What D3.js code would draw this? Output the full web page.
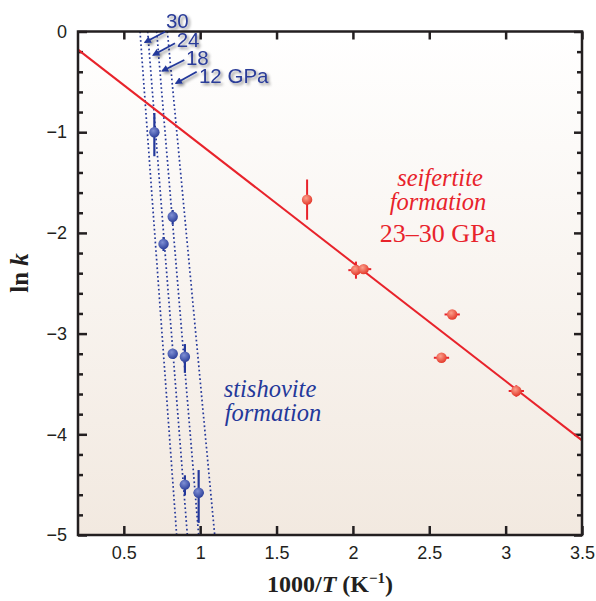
<!DOCTYPE html>
<html>
<head>
<meta charset="utf-8">
<script src="https://cdn.jsdelivr.net/npm/d3@7"></script>
<style>
  body { margin: 0; background: #fff; }
  svg { display: block; }
  .tick text { font-family: "Liberation Sans", Arial, sans-serif; font-size: 18px; fill: #231f20; }
  .tick line { stroke: #231f20; stroke-width: 2.5; }
</style>
</head>
<body>
<script>
// seifertite formation points (red)
const seifX = [1.70, 2.02, 2.07, 2.65, 2.58, 3.07];
const seifY = [-1.67, -2.37, -2.36, -2.81, -3.24, -3.57];
const seifXErr = [0.03, 0.05, 0.05, 0.05, 0.05, 0.05];
const seifYErr = [0.20, 0.085, 0, 0, 0, 0.057];

// stishovite formation points (blue)
const stiX = [0.70, 0.82, 0.76, 0.82, 0.90, 0.90, 0.99];
const stiY = [-1.00, -1.84, -2.11, -3.20, -3.23, -4.50, -4.58];
const stiYUp = [0.19, 0.067, 0.07, 0, 0.126, 0.093, 0.225];
const stiYDown = [0.24, 0.076, 0.07, 0, 0.16, 0.107, 0.30];
const stiXErr = [0, 0, 0, 0.03, 0.03, 0.033, 0.033];

// fitted line for seifertite
const fitX = [0.2, 3.5];
const fitY = [-0.18, -4.06];

// isobars (GPa) : x at ln k = 0 and at ln k = -5
const isoP = ["30", "24", "18", "12 GPa"];
const isoTopX = [0.606, 0.656, 0.715, 0.785];
const isoBotX = [0.846, 0.916, 0.990, 1.095];
// isobar labels and arrows (data coords)
const isoLabelX = [0.776, 0.846, 0.907, 0.992];
const isoLabelY = [0.032, -0.151, -0.333, -0.514];
const arrowFromX = [0.770, 0.835, 0.896, 0.977];
const arrowFromY = [-0.002, -0.117, -0.283, -0.399];
const arrowToX = [0.639, 0.693, 0.752, 0.842];
const arrowToY = [-0.107, -0.233, -0.392, -0.514];

const xTicks = [0.5, 1, 1.5, 2, 2.5, 3, 3.5];
const yTicks = [0, -1, -2, -3, -4, -5];

const W = 596, H = 601;
const mLeft = 78, mRight = 582, mTop = 31.5, mBottom = 535;

const red = "#e8232b", blue = "#24389a";

let svg = d3.select("body").append("svg").attr("width", W).attr("height", H);
let defs = svg.append("defs");

let bg = defs.append("linearGradient").attr("id", "bg")
    .attr("x1", 0).attr("y1", 0).attr("x2", 0).attr("y2", 1);
bg.append("stop").attr("offset", "0%").attr("stop-color", "#ffffff");
bg.append("stop").attr("offset", "100%").attr("stop-color", "#f2e9e0");

let rg = defs.append("radialGradient").attr("id", "redDot").attr("cx", "40%").attr("cy", "35%").attr("r", "65%");
rg.append("stop").attr("offset", "0%").attr("stop-color", "#fba08c");
rg.append("stop").attr("offset", "100%").attr("stop-color", "#e43a2c");

let bgr = defs.append("radialGradient").attr("id", "blueDot").attr("cx", "40%").attr("cy", "35%").attr("r", "65%");
bgr.append("stop").attr("offset", "0%").attr("stop-color", "#7f8fd4");
bgr.append("stop").attr("offset", "100%").attr("stop-color", "#30439d");

let sh = defs.append("filter").attr("id", "shadow").attr("x", "-20%").attr("y", "-20%").attr("width", "150%").attr("height", "160%");
sh.append("feDropShadow").attr("dx", 2).attr("dy", 2).attr("stdDeviation", 1.8)
    .attr("flood-color", "#000").attr("flood-opacity", 0.45);

defs.append("marker").attr("id", "arrow").attr("viewBox", "0 0 10 10")
    .attr("refX", 8).attr("refY", 5).attr("markerWidth", 4).attr("markerHeight", 4)
    .attr("orient", "auto")
    .append("path").attr("d", "M0,0 L10,5 L0,10 z").attr("fill", blue);

defs.append("clipPath").attr("id", "plotClip")
    .append("rect").attr("x", mLeft).attr("y", mTop).attr("width", mRight - mLeft).attr("height", mBottom - mTop);

let x = d3.scaleLinear().domain([0.2, 3.5]).range([mLeft, mRight]);
let y = d3.scaleLinear().domain([-5, 0]).range([mBottom, mTop]);

// plot background
svg.append("rect").attr("x", mLeft).attr("y", mTop).attr("width", mRight - mLeft).attr("height", mBottom - mTop)
    .attr("fill", "url(#bg)");

// axes
let minorY = d3.range(-5, 0.01, 0.2).map(d => Math.round(d * 10) / 10).filter(d => !Number.isInteger(d));

svg.append("g").attr("transform", `translate(0,${mBottom})`)
    .call(d3.axisBottom(x).tickValues(xTicks).tickFormat(d3.format("~g")).tickSizeInner(-9).tickSizeOuter(0).tickPadding(11))
    .call(g => g.select(".domain").remove());
svg.append("g").attr("transform", `translate(0,${mTop})`)
    .call(d3.axisTop(x).tickValues(xTicks).tickFormat("").tickSizeInner(-8).tickSizeOuter(0))
    .call(g => g.select(".domain").remove());
svg.append("g").attr("transform", `translate(${mLeft},0)`)
    .call(d3.axisLeft(y).tickValues(yTicks).tickFormat(d3.format("d")).tickSizeInner(-9).tickSizeOuter(0).tickPadding(11))
    .call(g => g.select(".domain").remove());
svg.append("g").attr("transform", `translate(${mLeft},0)`)
    .call(d3.axisLeft(y).tickValues(minorY).tickFormat("").tickSizeInner(-5).tickSizeOuter(0))
    .call(g => g.select(".domain").remove());
svg.append("g").attr("transform", `translate(${mRight},0)`)
    .call(d3.axisRight(y).tickValues(yTicks).tickFormat("").tickSizeInner(-8).tickSizeOuter(0))
    .call(g => g.select(".domain").remove());
svg.append("g").attr("transform", `translate(${mRight},0)`)
    .call(d3.axisRight(y).tickValues(minorY).tickFormat("").tickSizeInner(-5).tickSizeOuter(0))
    .call(g => g.select(".domain").remove());

let plot = svg.append("g").attr("clip-path", "url(#plotClip)");

// isobars
plot.selectAll(".iso").data(isoP).enter().append("line")
    .attr("x1", (d, i) => x(isoTopX[i])).attr("y1", y(0))
    .attr("x2", (d, i) => x(isoBotX[i])).attr("y2", y(-5))
    .attr("stroke", blue).attr("stroke-width", 1.7)
    .attr("stroke-dasharray", "1.7 2.6");

// fit line
plot.append("line")
    .attr("x1", x(fitX[0])).attr("y1", y(fitY[0]))
    .attr("x2", x(fitX[1])).attr("y2", y(fitY[1]))
    .attr("stroke", red).attr("stroke-width", 2);

// red error bars and points
let seif = seifX.map((d, i) => ({x: d, y: seifY[i], xe: seifXErr[i], ye: seifYErr[i]}));
let sg = plot.append("g");
sg.selectAll(".xe").data(seif.filter(d => d.xe > 0)).enter().append("line")
    .attr("x1", d => x(d.x - d.xe)).attr("x2", d => x(d.x + d.xe))
    .attr("y1", d => y(d.y)).attr("y2", d => y(d.y))
    .attr("stroke", red).attr("stroke-width", 2);
sg.selectAll(".ye").data(seif.filter(d => d.ye > 0)).enter().append("line")
    .attr("x1", d => x(d.x)).attr("x2", d => x(d.x))
    .attr("y1", d => y(d.y - d.ye)).attr("y2", d => y(d.y + d.ye))
    .attr("stroke", red).attr("stroke-width", 2);
sg.selectAll("circle").data(seif).enter().append("circle")
    .attr("cx", d => x(d.x)).attr("cy", d => y(d.y)).attr("r", 5.2)
    .attr("fill", "url(#redDot)");

// blue error bars and points
let sti = stiX.map((d, i) => ({x: d, y: stiY[i], up: stiYUp[i], dn: stiYDown[i], xe: stiXErr[i]}));
let bg2 = plot.append("g");
bg2.selectAll(".xe").data(sti.filter(d => d.xe > 0)).enter().append("line")
    .attr("x1", d => x(d.x - d.xe)).attr("x2", d => x(d.x + d.xe))
    .attr("y1", d => y(d.y)).attr("y2", d => y(d.y))
    .attr("stroke", blue).attr("stroke-width", 2.2);
bg2.selectAll(".ye").data(sti.filter(d => d.up > 0)).enter().append("line")
    .attr("x1", d => x(d.x)).attr("x2", d => x(d.x))
    .attr("y1", d => y(d.y - d.dn)).attr("y2", d => y(d.y + d.up))
    .attr("stroke", blue).attr("stroke-width", 2.2);
bg2.selectAll("circle").data(sti).enter().append("circle")
    .attr("cx", d => x(d.x)).attr("cy", d => y(d.y)).attr("r", 5.2)
    .attr("fill", "url(#blueDot)");

// frame
svg.append("rect").attr("x", mLeft).attr("y", mTop).attr("width", mRight - mLeft).attr("height", mBottom - mTop)
    .attr("fill", "none").attr("stroke", "#231f20").attr("stroke-width", 2.5);

// isobar labels with arrows
let ann = svg.append("g").attr("filter", "url(#shadow)");
ann.selectAll("line").data(isoP).enter().append("line")
    .attr("x1", (d, i) => x(arrowFromX[i])).attr("y1", (d, i) => y(arrowFromY[i]))
    .attr("x2", (d, i) => x(arrowToX[i])).attr("y2", (d, i) => y(arrowToY[i]))
    .attr("stroke", blue).attr("stroke-width", 1.8).attr("marker-end", "url(#arrow)");
ann.selectAll("text").data(isoP).enter().append("text")
    .attr("x", (d, i) => x(isoLabelX[i])).attr("y", (d, i) => y(isoLabelY[i]))
    .attr("font-family", "Liberation Sans, Arial, sans-serif").attr("font-size", 20.5)
    .attr("fill", "#2a3c98")
    .text(d => d);

// region labels
let serif = "Liberation Serif, Times New Roman, serif";
svg.append("text").attr("x", 440).attr("y", 186).attr("text-anchor", "middle")
    .attr("font-family", serif).attr("font-style", "italic").attr("font-size", 24.5).attr("fill", red)
    .text("seifertite");
svg.append("text").attr("x", 438).attr("y", 210).attr("text-anchor", "middle")
    .attr("font-family", serif).attr("font-style", "italic").attr("font-size", 24.5).attr("fill", red)
    .text("formation");
svg.append("text").attr("x", 438).attr("y", 242).attr("text-anchor", "middle")
    .attr("font-family", serif).attr("font-size", 26).attr("fill", red)
    .text("23\u201330 GPa");
svg.append("text").attr("x", 270).attr("y", 397).attr("text-anchor", "middle")
    .attr("font-family", serif).attr("font-style", "italic").attr("font-size", 24.5).attr("fill", blue)
    .text("stishovite");
svg.append("text").attr("x", 273).attr("y", 421).attr("text-anchor", "middle")
    .attr("font-family", serif).attr("font-style", "italic").attr("font-size", 24.5).attr("fill", blue)
    .text("formation");

// axis titles
let xt = svg.append("text").attr("x", 330).attr("y", 592).attr("text-anchor", "middle")
    .attr("font-family", serif).attr("font-weight", "bold").attr("font-size", 24).attr("fill", "#231f20");
xt.append("tspan").text("1000/");
xt.append("tspan").attr("font-style", "italic").text("T");
xt.append("tspan").text(" (K");
xt.append("tspan").attr("font-size", 15).attr("dy", -9).text("\u22121");
xt.append("tspan").attr("dy", 9).text(")");

let yt = svg.append("text").attr("transform", "translate(28,273) rotate(-90)").attr("text-anchor", "middle")
    .attr("font-family", serif).attr("font-weight", "bold").attr("font-size", 25).attr("fill", "#231f20");
yt.append("tspan").text("ln ");
yt.append("tspan").attr("font-style", "italic").text("k");
</script>
</body>
</html>
